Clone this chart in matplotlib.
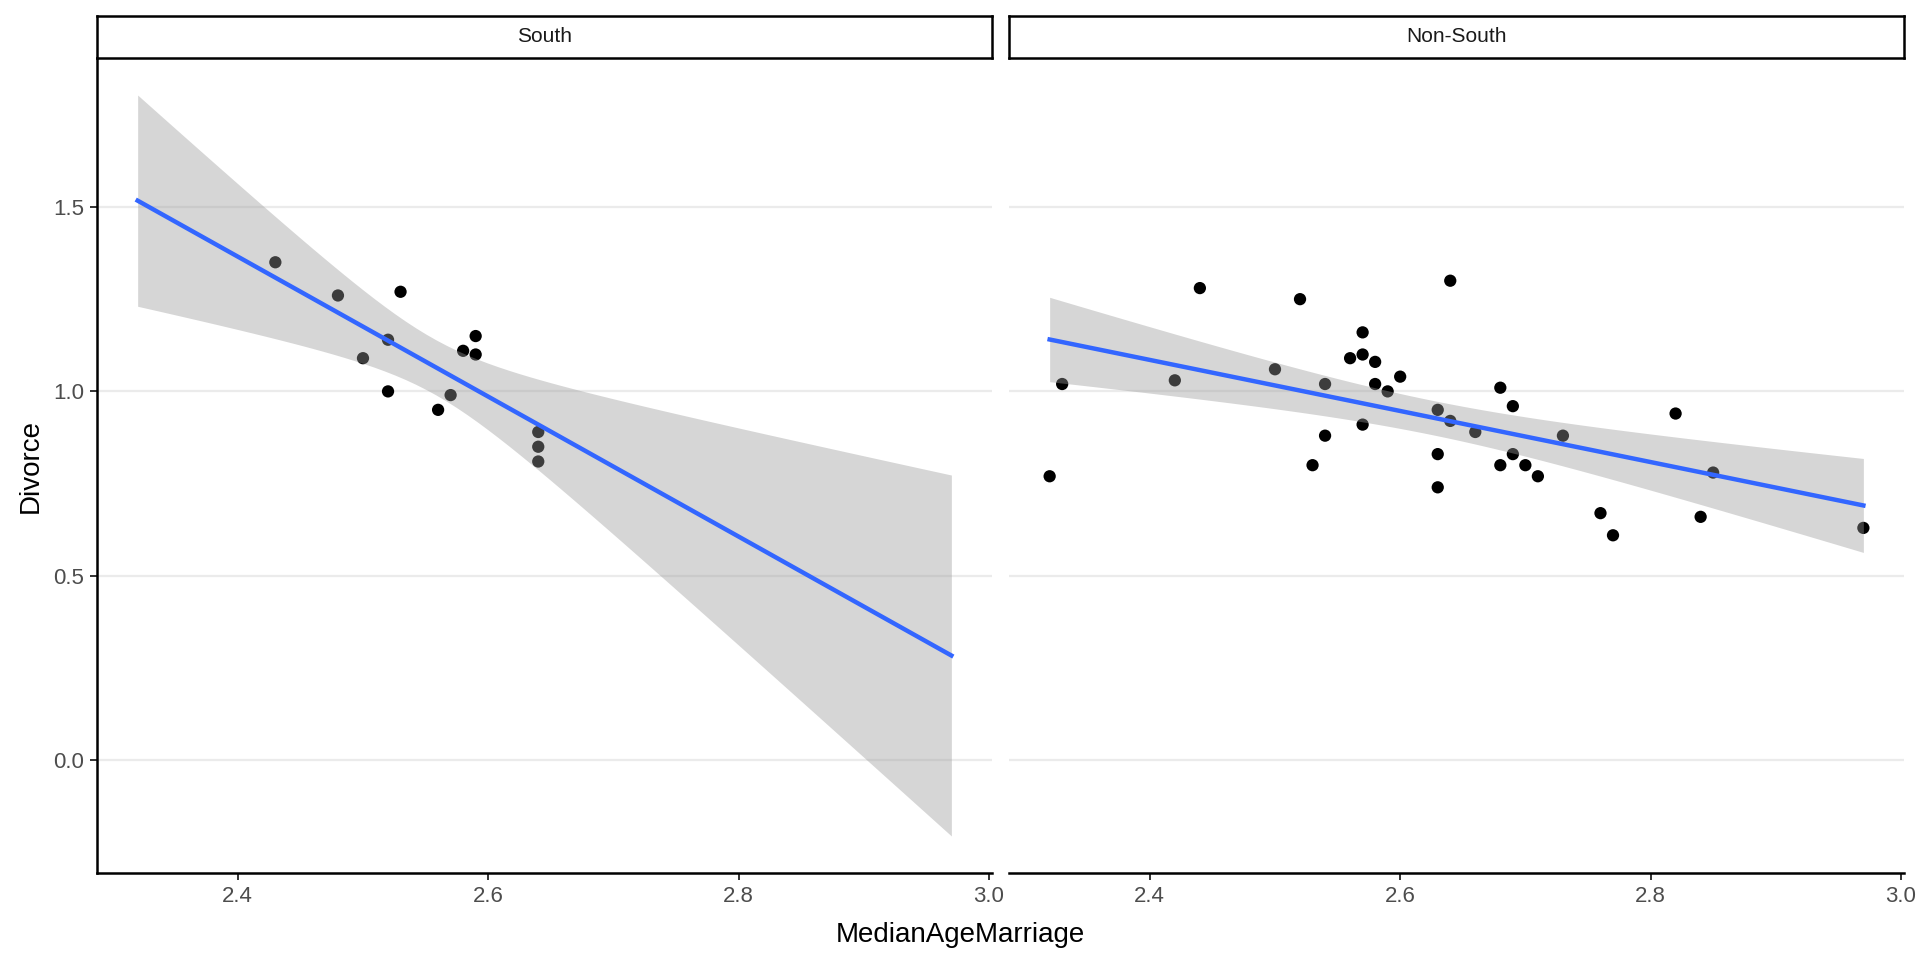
import numpy as np
import matplotlib
matplotlib.use("Agg")
import matplotlib.pyplot as plt

plt.rcParams['font.family'] = ['Liberation Sans', 'DejaVu Sans']

# 数据 (MedianAgeMarriage/10, Divorce/10)
south_age = [2.53, 2.43, 2.64, 2.59, 2.48, 2.59, 2.58, 2.56, 2.57, 2.64, 2.52, 2.52, 2.64, 2.50]
south_div = [1.27, 1.35, 0.85, 1.15, 1.26, 1.10, 1.11, 0.95, 0.99, 0.81, 1.14, 1.00, 0.89, 1.09]

nonsouth_age = [2.52, 2.58, 2.68, 2.57, 2.76, 2.66, 2.97, 2.69, 2.32, 2.70, 2.57, 2.54, 2.50,
                2.64, 2.73, 2.85, 2.64, 2.63, 2.57, 2.54, 2.68, 2.77, 2.58, 2.84, 2.53, 2.63,
                2.44, 2.60, 2.71, 2.82, 2.56, 2.33, 2.69, 2.59, 2.63, 2.42]
nonsouth_div = [1.25, 1.08, 0.80, 1.16, 0.67, 0.89, 0.63, 0.83, 0.77, 0.80, 1.10, 1.02, 1.06,
                1.30, 0.88, 0.78, 0.92, 0.74, 0.91, 0.88, 1.01, 0.61, 1.02, 0.66, 0.80, 0.95,
                1.28, 1.04, 0.77, 0.94, 1.09, 1.02, 0.96, 1.00, 0.83, 1.03]

panels = ['South', 'Non-South']
x_ticks = [2.4, 2.6, 2.8, 3.0]
y_ticks = [0.0, 0.5, 1.0, 1.5]

# 交互模型: 两组共用残差标准差, 斜率先验 Normal(0, slope_prior_sd)
slope_prior_sd = 2.0
t975_df46 = 2.012896

groups = [(np.array(south_age), np.array(south_div)),
          (np.array(nonsouth_age), np.array(nonsouth_div))]

# x 范围: 全部数据 + 5% 扩展
all_x = np.concatenate([g[0] for g in groups])
xmin, xmax = all_x.min(), all_x.max()
xr = xmax - xmin
xgrid = np.linspace(xmin, xmax, 80)

# 共用的残差方差
rss = 0.0
for x, y in groups:
    b, a = np.polyfit(x, y, 1)
    rss += np.sum((y - (a + b * x)) ** 2)
n_all = sum(len(g[0]) for g in groups)
s2 = rss / (n_all - 2 * len(groups))


def fit_band(x, y):
    n = len(x)
    xm, ym = x.mean(), y.mean()
    sxx = np.sum((x - xm) ** 2)
    sxy = np.sum((x - xm) * (y - ym))
    prec = sxx / s2 + 1 / slope_prior_sd ** 2
    b = (sxy / s2) / prec
    var_b = 1 / prec
    fit = ym + b * (xgrid - xm)
    se = np.sqrt(s2 / n + (xgrid - xm) ** 2 * var_b)
    return fit, fit - t975_df46 * se, fit + t975_df46 * se


fits = [fit_band(x, y) for x, y in groups]
ylo = min(min(f[1].min() for f in fits), min(g[1].min() for g in groups))
yhi = max(max(f[2].max() for f in fits), max(g[1].max() for g in groups))
yr = yhi - ylo

fig = plt.figure(figsize=(19.2, 9.6), dpi=100)
lefts = [0.0505, 0.5255]
width = 0.4662
bottom, top = 0.0906, 0.9396

for i, (name, (x, y), (fit, lo, hi)) in enumerate(zip(panels, groups, fits)):
    ax = fig.add_axes([lefts[i], bottom, width, top - bottom])
    for yt in y_ticks:
        ax.axhline(yt, color='#EBEBEB', lw=1.6, zorder=0)
    ax.scatter(x, y, s=78, color='black', edgecolors='none', zorder=2)
    ax.fill_between(xgrid, lo, hi, color='#999999', alpha=0.4, lw=0, zorder=3)
    ax.plot(xgrid, fit, color='#3366FF', lw=3.2, zorder=4)

    ax.set_xlim(xmin - 0.05 * xr, xmax + 0.05 * xr)
    ax.set_ylim(ylo - 0.05 * yr, yhi + 0.05 * yr)
    ax.set_xticks(x_ticks)
    ax.set_xticklabels([f'{v:.1f}' for v in x_ticks])
    ax.set_yticks(y_ticks)
    ax.set_yticklabels([f'{v:.1f}' for v in y_ticks])
    ax.tick_params(axis='both', labelsize=16, colors='#333333', labelcolor='#4D4D4D',
                   length=5, width=1.4, pad=4)
    for sp in ['top', 'right']:
        ax.spines[sp].set_visible(False)
    ax.spines['bottom'].set_linewidth(1.8)
    ax.spines['left'].set_linewidth(1.8)
    if i == 1:
        ax.spines['left'].set_visible(False)
        ax.tick_params(axis='y', left=False, labelleft=False)

    # 分面标题
    st = fig.add_axes([lefts[i], top, width, 0.0441])
    st.set_xticks([])
    st.set_yticks([])
    for sp in st.spines.values():
        sp.set_linewidth(1.8)
        sp.set_color('black')
    st.text(0.5, 0.5, name, ha='center', va='center', fontsize=15, color='#1A1A1A',
            transform=st.transAxes)

fig.text(0.5, 0.026, 'MedianAgeMarriage', ha='center', va='center', fontsize=20)
fig.text(0.016, 0.515, 'Divorce', ha='center', va='center', rotation=90, fontsize=20)

fig.savefig('out.png', dpi=100)
